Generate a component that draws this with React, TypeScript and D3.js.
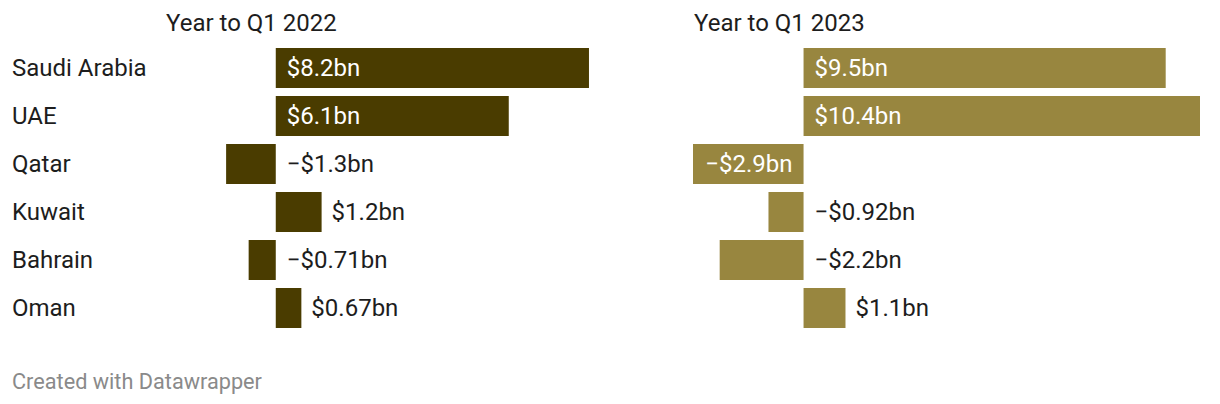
import React from "react";
import * as d3 from "d3";

const countries = ["Saudi Arabia", "UAE", "Qatar", "Kuwait", "Bahrain", "Oman"];
const values2022 = [8.2, 6.1, -1.3, 1.2, -0.71, 0.67];
const values2023 = [9.5, 10.4, -2.9, -0.92, -2.2, 1.1];
const panelTitles = ["Year to Q1 2022", "Year to Q1 2023"];
const panelColors = ["#4a3c00", "#98863f"];

const W = 1220;
const H = 404;
const FONT = "Roboto, 'Noto Sans', sans-serif";

function fmt(v: number) {
  const a = Math.abs(v);
  const s = a < 1 ? d3.format(".2~f")(a) : d3.format(".1~f")(a);
  return (v < 0 ? "\u2212" : "") + "$" + s + "bn";
}

let ctx: CanvasRenderingContext2D | null = null;
function textWidth(t: string, size: number) {
  if (!ctx) ctx = document.createElement("canvas").getContext("2d");
  if (!ctx) return t.length * size * 0.55;
  ctx.font = `${size}px Roboto`;
  return ctx.measureText(t).width;
}

export default function App() {
  const domain: [number, number] = [-2.9, 10.4];
  const panels = [
    { x0: 165, x1: 673, values: values2022 },
    { x0: 693, x1: 1200, values: values2023 },
  ];
  const y = d3.scaleBand<string>().domain(countries).range([44, 332]).paddingInner(8 / 48).paddingOuter(4 / 48);
  const fs = 24;

  return (
    <div style={{ margin: -8 }}>
      <svg width={W} height={H} style={{ display: "block", fontFamily: FONT }}>
        <rect width={W} height={H} fill="#fff" />
        {countries.map((c) => (
          <text key={c} x={12} y={(y(c) as number) + y.bandwidth() / 2} dy="0.35em" fontSize={fs} fill="#1d1d1d">
            {c}
          </text>
        ))}
        {panels.map((p, pi) => {
          const x = d3.scaleLinear().domain(domain).range([p.x0, p.x1]);
          const z = x(0);
          return (
            <g key={pi}>
              <text x={p.x0 + 1} y={23} dy="0.35em" fontSize={fs} fill="#1d1d1d">
                {panelTitles[pi]}
              </text>
              {countries.map((c, i) => {
                const v = p.values[i];
                const xs = Math.min(x(v), z);
                const w = Math.abs(x(v) - z);
                const yy = y(c) as number;
                const label = fmt(v);
                const tw = textWidth(label, fs);
                const fits = tw + 22 <= w;
                let tx: number;
                let anchor: "start" | "end" = "start";
                let fill = "#1d1d1d";
                if (fits) {
                  fill = "#ffffff";
                  if (v >= 0) tx = z + 11;
                  else {
                    tx = z - 11;
                    anchor = "end";
                  }
                } else {
                  tx = v >= 0 ? x(v) + 10 : z + 11;
                }
                return (
                  <g key={c}>
                    <rect x={xs} y={yy} width={w} height={y.bandwidth()} fill={panelColors[pi]} />
                    <text x={tx} y={yy + y.bandwidth() / 2} dy="0.35em" fontSize={fs} fill={fill} textAnchor={anchor}>
                      {label}
                    </text>
                  </g>
                );
              })}
            </g>
          );
        })}
        <text x={12} y={381} dy="0.35em" fontSize={21.7} fill="#8a8a8a">
          Created with Datawrapper
        </text>
      </svg>
    </div>
  );
}
